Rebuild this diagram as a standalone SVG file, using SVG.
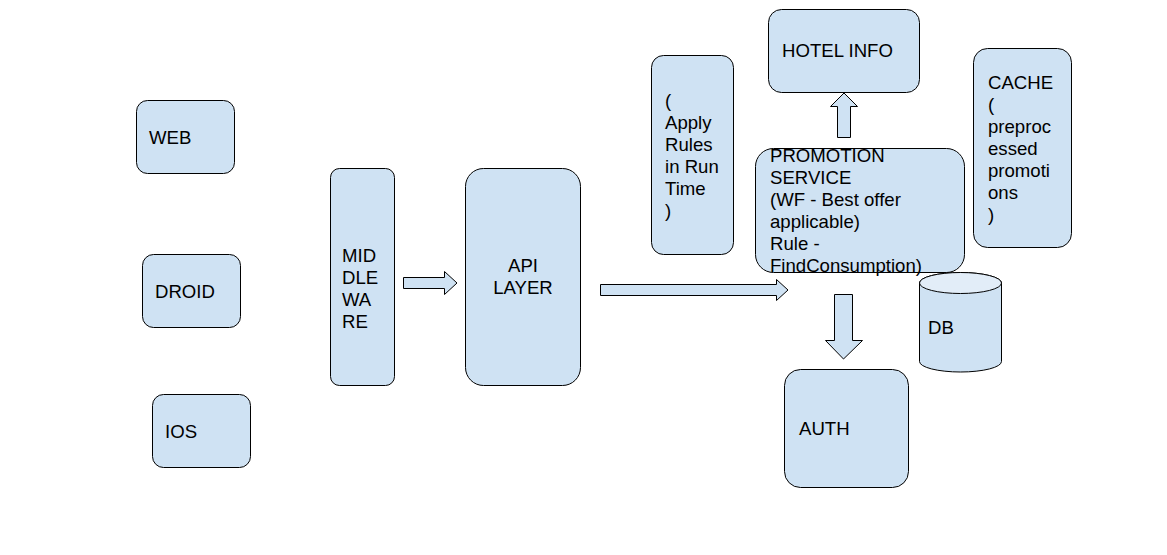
<svg xmlns="http://www.w3.org/2000/svg" width="1167" height="555" viewBox="0 0 1167 555">
<style>
.box{fill:#cfe2f3;stroke:#000;stroke-width:1}
.arr{fill:#cfe2f3;stroke:#000;stroke-width:1;stroke-linejoin:miter}
text{font-family:"Liberation Sans",Arial,sans-serif;font-size:18.6px;fill:#000}
</style>
<rect width="1167" height="555" fill="#fff"/>
<g id="web"><rect class="box" x="136.5" y="100.5" width="98" height="73" rx="11"/><text x="149" y="144">WEB</text></g>
<g id="droid"><rect class="box" x="142.5" y="254.5" width="98" height="73" rx="11"/><text x="155" y="298">DROID</text></g>
<g id="ios"><rect class="box" x="152.5" y="394.5" width="98" height="73" rx="11"/><text x="165" y="438">IOS</text></g>
<g id="middleware"><rect class="box" x="330.5" y="168.5" width="64" height="217" rx="9"/>
<text x="342"><tspan x="342" y="262">MID</tspan><tspan x="342" y="284">DLE</tspan><tspan x="342" y="306">WA</tspan><tspan x="342" y="328">RE</tspan></text></g>
<g id="api"><rect class="box" x="465.5" y="168.5" width="115" height="217" rx="18"/>
<text text-anchor="middle"><tspan x="523" y="272">API</tspan><tspan x="523" y="294">LAYER</tspan></text></g>
<g id="rules"><rect class="box" x="651.5" y="55.5" width="82" height="199" rx="12"/>
<text><tspan x="665" y="107">(</tspan><tspan x="665" y="129">Apply</tspan><tspan x="665" y="151">Rules</tspan><tspan x="665" y="173">in Run</tspan><tspan x="665" y="195">Time</tspan><tspan x="665" y="217">)</tspan></text></g>
<g id="hotel"><rect class="box" x="768.5" y="9.5" width="151" height="83" rx="13"/><text x="782" y="57">HOTEL INFO</text></g>
<g id="promotion"><rect class="box" x="755.5" y="148.5" width="209" height="124" rx="18"/>
<text><tspan x="770" y="162">PROMOTION</tspan><tspan x="770" y="184">SERVICE</tspan><tspan x="770" y="206">(WF - Best offer</tspan><tspan x="770" y="228">applicable)</tspan><tspan x="770" y="250">Rule -</tspan><tspan x="770" y="272">FindConsumption)</tspan></text></g>
<g id="cache"><rect class="box" x="973.5" y="48.5" width="98" height="199" rx="14"/>
<text><tspan x="988" y="89">CACHE</tspan><tspan x="988" y="111">(</tspan><tspan x="988" y="133">preproc</tspan><tspan x="988" y="155">essed</tspan><tspan x="988" y="177">promoti</tspan><tspan x="988" y="199">ons</tspan><tspan x="988" y="221">)</tspan></text></g>
<g id="db"><path class="box" d="M919.5 283 A41 10.5 0 0 1 1001.5 283 L1001.5 361.5 A41 10.5 0 0 1 919.5 361.5 Z"/>
<ellipse cx="960.5" cy="283" rx="41" ry="10.5" fill="#e2edf8" stroke="#000" stroke-width="1"/>
<text x="928" y="334">DB</text></g>
<g id="auth"><rect class="box" x="784.5" y="369.5" width="124" height="118" rx="16"/><text x="799" y="435">AUTH</text></g>
<g id="connectors">
<path class="arr" d="M403.5 277.5 H444.5 V271.5 L457 283 L444.5 294.5 V288.5 H403.5 Z"/>
<path class="arr" d="M600.5 284.5 H776.5 V279.5 L788 290 L776.5 300.5 V295.5 H600.5 Z"/>
<path class="arr" d="M834.5 294.5 H852.5 V340.5 H862.5 L843.5 359 L825.5 340.5 H834.5 Z"/>
<path class="arr" d="M837.5 137.5 V106.5 H830.5 L844 93 L857.5 106.5 H850.5 V137.5 Z"/>
</g>
</svg>
